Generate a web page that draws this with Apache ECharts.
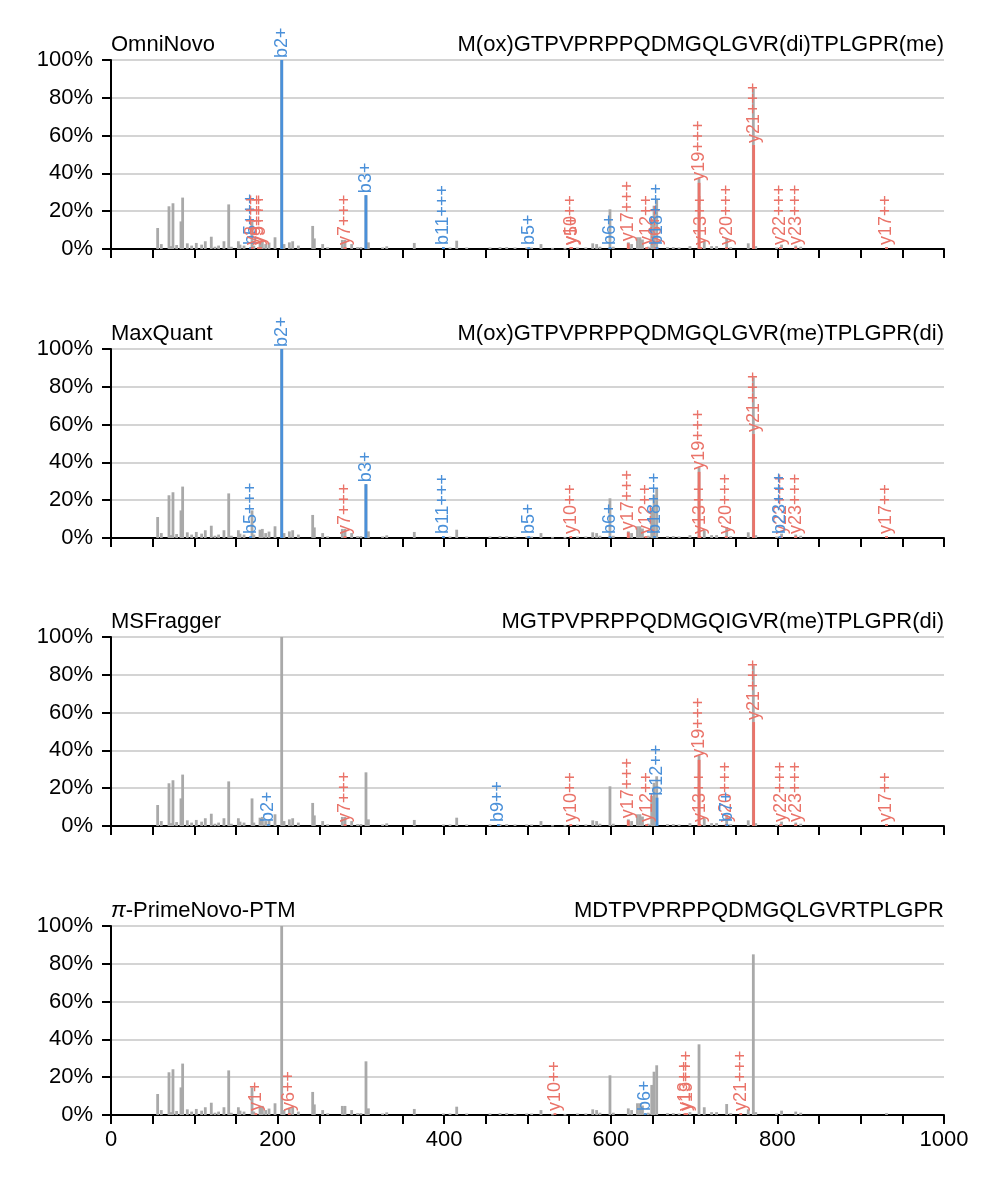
<!DOCTYPE html>
<html>
<head>
<meta charset="utf-8">
<script src="https://cdn.jsdelivr.net/npm/echarts@6/dist/echarts.min.js"></script>
<style>
  html, body { margin: 0; padding: 0; background: #fff; }
  #chart { width: 998px; height: 1186px; }
</style>
</head>
<body>
<div id="chart"></div>
<script>
// shared spectrum (m/z, relative intensity %)
const peakMz = [56, 60.4, 69.6, 72, 74.4, 78.8, 84, 86, 91.6, 96.8, 102.4, 108.8, 113.2, 120.4, 124.8, 129.2, 135.6, 141.3, 144.5, 152.9, 154.9, 159.7, 169.3, 171.5, 178.9, 181.7, 185.7, 189.7, 196.9, 204.9, 207.7, 214.1, 218.1, 224.9, 242.1, 244.1, 254.1, 260.1, 277.7, 280.9, 288.9, 296, 300, 306.1, 309, 326, 331, 364.1, 399, 407, 415, 427, 455, 467, 475, 485, 499, 505, 516.2, 530, 545, 560, 570, 578.3, 583, 587, 599, 603, 621, 625, 632, 635, 638, 645, 649.1, 651.9, 655.1, 668, 675, 682, 695, 705.9, 712.2, 721, 727, 739.1, 744, 765, 771.1, 774, 799, 805, 822, 828, 931]
const peakIntensity = [11.1, 2.6, 22.6, 1.5, 24.2, 2.1, 14.6, 27.2, 3, 1.8, 3.2, 2.3, 4.1, 6.5, 1.2, 1.8, 4.1, 23.6, 1.2, 4.1, 2.3, 1.8, 14.6, 1.8, 4.4, 4.8, 2.6, 3.4, 6.2, 100, 2.6, 3.5, 4.1, 1.8, 12.2, 5.6, 2.6, 0.9, 4.8, 4.8, 2.6, 1, 1, 28.4, 3.5, 0.8, 1.4, 3.2, 0.8, 0.8, 4.4, 0.8, 0.8, 1, 1, 0.8, 0.8, 0.8, 2.6, 0.6, 0.6, 0.8, 0.8, 3, 2.6, 1.2, 21, 1.2, 3.5, 2.6, 6.2, 6.2, 5, 1.2, 15.9, 22.9, 26.3, 1, 1, 0.8, 1.5, 37.4, 4.1, 1.5, 1.5, 5.8, 1, 3, 85, 1.5, 0.8, 2.3, 1.8, 1.2, 1]

// methods and predicted sequences
const methods = ['OmniNovo', 'MaxQuant', 'MSFragger', '{i|π}-PrimeNovo-PTM']
const sequences = [
  'M(ox)GTPVPRPPQDMGQLGVR(di)TPLGPR(me)',
  'M(ox)GTPVPRPPQDMGQLGVR(me)TPLGPR(di)',
  'MGTPVPRPPQDMGQIGVR(me)TPLGPR(di)',
  'MDTPVPRPPQDMGQLGVRTPLGPR'
]

// matched fragment ions per method
const omniIons = ['b5+++', 'y3+++', 'y5+++', 'y9+++', 'b2+', 'y7+++', 'b3+', 'b11+++', 'b5+', 'y10++', 'y5+', 'b6+', 'y17+++', 'y12++', 'y6++', 'b18+++', 'y19+++', 'y13++', 'y20+++', 'y21+++', 'y22+++', 'y23+++', 'y17++']
const omniMz = [167.6, 169.5, 177, 179.5, 205, 281, 306, 399, 501.5, 552, 553, 599, 621, 643, 654, 655.5, 706, 708, 739, 771.5, 803.5, 822, 931]
const omniInt = [1, 1, 1, 1, 100, 1, 28.5, 1, 1, 1, 1, 1, 3, 1, 1, 1, 35, 1, 1, 55, 1, 1, 1]

const maxqIons = ['b5+++', 'b2+', 'y7+++', 'b3+', 'b11+++', 'b5+', 'y10++', 'b6+', 'y17+++', 'y12++', 'b18+++', 'y19+++', 'y13++', 'y20+++', 'y21+++', 'y22+++', 'b23+++', 'y23+++', 'y17++']
const maxqMz = [167.6, 205, 281, 306, 399, 501.5, 552, 599, 621, 642, 652.5, 706, 707, 738.5, 771.5, 804, 803, 822, 931]
const maxqInt = [1, 100, 1, 28.5, 1, 1, 1, 1, 3, 1, 1, 35, 1, 1, 55, 1, 1, 1, 1]

const msfIons = ['b2+', 'y7+++', 'b9++', 'y10++', 'y17+++', 'y12++', 'b12++', 'y19+++', 'y13++', 'y20+++', 'b7+', 'y21+++', 'y22+++', 'y23+++', 'y17++']
const msfMz = [189, 281, 465, 552, 621, 643, 655.5, 706, 707, 738.5, 739.5, 771.5, 804, 822, 931]
const msfInt = [1, 1, 1, 1, 3, 1, 15, 35, 1, 1, 1, 55, 1, 1, 1]

const primeIons = ['y1+', 'y6++', 'y10++', 'b6+', 'y13++', 'y19+++', 'y21+++']
const primeMz = [174, 214, 533, 641.5, 689, 691, 756]
const primeInt = [1, 1, 1, 1, 1, 1, 1]

const panelIons = [omniIons, maxqIons, msfIons, primeIons]
const panelMz = [omniMz, maxqMz, msfMz, primeMz]
const panelInt = [omniInt, maxqInt, msfInt, primeInt]

const GRAY = '#a9a9a9'
const BLUE = '#4a90d9'
const RED = '#ea7369'
const FONT = '"Liberation Sans", Arial, sans-serif'
const gridTops = [60, 349, 637, 926]
const gridHeight = 189

function ionColor(ion) {
  return ion[0] === 'b' ? BLUE : RED
}

function renderPeak(colorOf) {
  return (params, api) => {
    const base = api.coord([api.value(0), 0])
    const top = api.coord([api.value(0), api.value(1)])
    return {
      type: 'rect',
      shape: { x: base[0] - 1.4, y: top[1], width: 2.8, height: Math.max(base[1] - top[1], 1.5) },
      style: { fill: colorOf(params.dataIndex) }
    }
  }
}

function renderIonLabel(ions) {
  return (params, api) => {
    const top = api.coord([api.value(0), api.value(1)])
    return {
      type: 'text',
      x: top[0],
      y: top[1] - 2,
      rotation: Math.PI / 2,
      style: {
        text: ions[params.dataIndex],
        fill: ionColor(ions[params.dataIndex]),
        font: '18px ' + FONT,
        align: 'left',
        verticalAlign: 'middle'
      }
    }
  }
}

const chart = echarts.init(document.getElementById('chart'), null, { renderer: 'canvas' })

const grids = gridTops.map((top) => ({ left: 111, right: 54, top, height: gridHeight }))

const xAxes = gridTops.map((_, i) => ({
  type: 'value',
  gridIndex: i,
  min: 0,
  max: 1000,
  interval: 50,
  axisLine: { lineStyle: { color: '#000', width: 2 } },
  axisTick: { length: 9, lineStyle: { color: '#000', width: 2 } },
  splitLine: { show: false },
  axisLabel: {
    show: i === 3,
    color: '#000',
    fontSize: 22,
    fontFamily: FONT,
    margin: 14,
    formatter: (v) => (v % 200 === 0 ? String(v) : '')
  }
}))

const yAxes = gridTops.map((_, i) => ({
  type: 'value',
  gridIndex: i,
  min: 0,
  max: 100,
  interval: 20,
  axisLine: { show: true, lineStyle: { color: '#000', width: 2 } },
  axisTick: { show: true, length: 9, lineStyle: { color: '#000', width: 2 } },
  splitLine: { lineStyle: { color: '#d4d4d4', width: 2 } },
  axisLabel: { color: '#000', fontSize: 22, fontFamily: FONT, margin: 18, formatter: '{value}%' }
}))

const titles = []
gridTops.forEach((top, i) => {
  titles.push({
    text: methods[i],
    left: 111,
    top: top - 26,
    padding: 0,
    textStyle: {
      fontSize: 22, fontWeight: 'normal', color: '#000', fontFamily: FONT,
      rich: { i: { fontStyle: 'italic', fontSize: 22, fontFamily: FONT, color: '#000' } }
    }
  })
  titles.push({
    text: sequences[i],
    right: 54,
    top: top - 26,
    padding: 0,
    textStyle: { fontSize: 22, fontWeight: 'normal', color: '#000', fontFamily: FONT }
  })
})

const series = []
gridTops.forEach((_, i) => {
  const ions = panelIons[i]
  const annotated = panelMz[i].map((m, k) => [m, panelInt[i][k]])
  series.push({
    type: 'custom',
    xAxisIndex: i,
    yAxisIndex: i,
    z: 2,
    silent: true,
    data: peakMz.map((m, k) => [m, peakIntensity[k]]),
    renderItem: renderPeak(() => GRAY)
  })
  series.push({
    type: 'custom',
    xAxisIndex: i,
    yAxisIndex: i,
    z: 3,
    silent: true,
    data: annotated,
    renderItem: renderPeak((k) => ionColor(ions[k]))
  })
  series.push({
    type: 'custom',
    xAxisIndex: i,
    yAxisIndex: i,
    z: 4,
    silent: true,
    clip: false,
    data: annotated,
    renderItem: renderIonLabel(ions)
  })
})

chart.setOption({
  animation: false,
  backgroundColor: '#fff',
  title: titles,
  grid: grids,
  xAxis: xAxes,
  yAxis: yAxes,
  series
})

window.addEventListener('resize', () => chart.resize())
</script>
</body>
</html>
